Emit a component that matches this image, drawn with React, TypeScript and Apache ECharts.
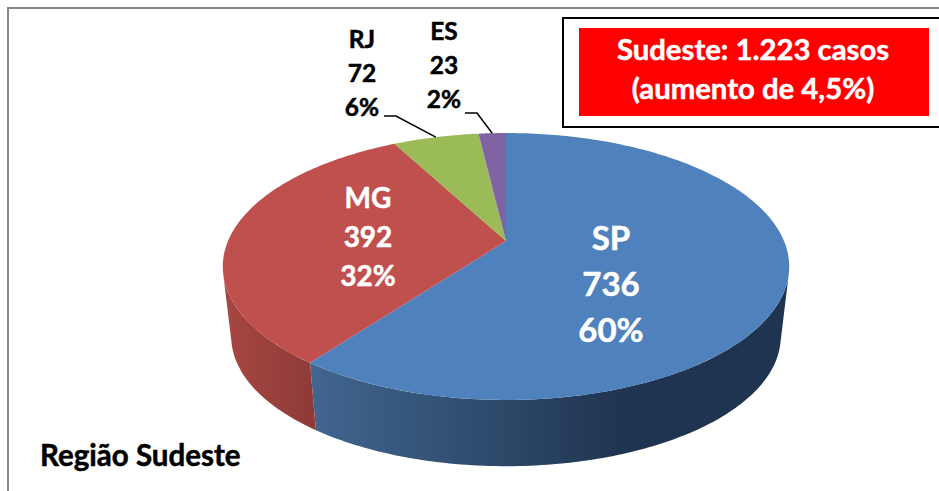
import React, { useEffect, useRef } from "react";
import * as echarts from "echarts";

const categories = ["SP", "MG", "RJ", "ES"];
const values = [736, 392, 72, 23];
const percentLabels = ["60%", "32%", "6%", "2%"];
const titleLines = ["Sudeste: 1.223 casos", "(aumento de 4,5%)"];
const regionLabel = "Região Sudeste";

const FONT = "Lato, Carlito, sans-serif";
const topColors = ["#4f81bd", "#c0504d", "#9bbb59", "#8064a2"];
const wallStops = [
  ["#41668f", "#1f3450"],
  ["#a84744", "#8e3a37"],
  ["#7d9647", "#7d9647"],
  ["#665082", "#665082"],
];
const wallRange = [
  [312, 625],
  [222, 316],
  [0, 939],
  [0, 939],
];
const labelLayout = [
  { x: 611, y: 283, size: 33, line: 46, fill: "#ffffff" },
  { x: 368, y: 235.5, size: 28, line: 39, fill: "#ffffff" },
  { x: 362, y: 72, size: 24.5, line: 34, fill: "#000000" },
  { x: 444, y: 64, size: 24.5, line: 34, fill: "#000000" },
];
const leaderStart: (number[] | null)[] = [
  null,
  null,
  [384, 116, 396, 116],
  [465, 113, 477, 113],
];

// perspective projection of the pie disc
const CX = 506;
const CY = 241;
const R = 278;
const TILT_A = 128.6;
const TILT_C = -0.191;
const DROP = 71;
const SHRINK = 0.97;

const total = values.reduce((a, b) => a + b, 0);
const starts: number[] = [];
values.reduce((acc, v, i) => {
  starts[i] = acc;
  return acc + v;
}, 0);

const rimPoint = (share: number, lower: boolean): number[] => {
  const t = share * Math.PI * 2;
  const u = Math.sin(t);
  const v = -Math.cos(t);
  const d = 1 + TILT_C * v;
  const X = (R * u) / d;
  const Y = (TILT_A * v) / d;
  return lower
    ? [CX + SHRINK * X, CY + DROP + SHRINK * Y]
    : [CX + X, CY + Y];
};

// share at which the wall's silhouette touches the rim on the right side;
// the left side mirrors it
const silhouetteShare = (() => {
  let s = 0.25;
  for (let k = 0; k <= 1000; k++) {
    const t = 0.1 + (0.4 * k) / 1000;
    const p = rimPoint(t, false);
    const p2 = rimPoint(t + 0.0001, false);
    const q = rimPoint(t, true);
    const cross =
      (p2[0] - p[0]) * (q[1] - p[1]) - (p2[1] - p[1]) * (q[0] - p[0]);
    if (cross < 0) {
      s = t;
      break;
    }
  }
  return s;
})();

const arcBetween = (a: number, b: number, lower: boolean): number[][] => {
  const n = Math.max(4, Math.ceil((b - a) * 360));
  const pts: number[][] = [];
  for (let k = 0; k <= n; k++) pts.push(rimPoint(a + ((b - a) * k) / n, lower));
  return pts;
};

const seriesData = categories.map((name, i) => ({ name, value: values[i] }));

const renderWall = (params: any) => {
  const i = params.dataIndex;
  const a = Math.max(starts[i] / total, silhouetteShare);
  const b = Math.min((starts[i] + values[i]) / total, 1 - silhouetteShare);
  if (b <= a) return null;
  const [x0, x1] = wallRange[i];
  return {
    type: "polygon",
    shape: {
      points: [...arcBetween(a, b, false), ...arcBetween(a, b, true).reverse()],
    },
    style: {
      fill: new echarts.graphic.LinearGradient(
        x0, 0, x1, 0,
        [
          { offset: 0, color: wallStops[i][0] },
          { offset: 1, color: wallStops[i][1] },
        ],
        true
      ),
    },
  };
};

const renderTop = (params: any) => {
  const i = params.dataIndex;
  const a = starts[i] / total;
  const b = (starts[i] + values[i]) / total;
  return {
    type: "polygon",
    shape: { points: [[CX, CY], ...arcBetween(a, b, false)] },
    style: { fill: topColors[i] },
  };
};

const renderLabel = (params: any) => {
  const i = params.dataIndex;
  const l = labelLayout[i];
  const children: any[] = [
    {
      type: "text",
      style: {
        text: `${categories[i]}\n${values[i]}\n${percentLabels[i]}`,
        x: l.x,
        y: l.y,
        align: "center",
        verticalAlign: "middle",
        fontFamily: FONT,
        fontWeight: "bold",
        fontSize: l.size,
        lineHeight: l.line,
        fill: l.fill,
        stroke: l.fill,
        lineWidth: 0.5,
      },
    },
  ];
  const s = leaderStart[i];
  if (s) {
    const end = rimPoint((starts[i] + values[i] / 2) / total, false);
    children.push({
      type: "polyline",
      shape: { points: [[s[0], s[1]], [s[2], s[3]], end] },
      style: { stroke: "#000000", lineWidth: 1.5, fill: "none" },
    });
  }
  return { type: "group", children };
};

export default function App() {
  const ref = useRef<HTMLDivElement>(null);
  useEffect(() => {
    if (!ref.current) return;
    const chart = echarts.init(ref.current, undefined, { renderer: "svg" });
    chart.setOption({
      animation: false,
      backgroundColor: "#ffffff",
      series: [
        { type: "custom", coordinateSystem: "none", silent: true, data: seriesData, renderItem: renderWall, z: 1 },
        { type: "custom", coordinateSystem: "none", silent: true, data: seriesData, renderItem: renderTop, z: 2 },
        { type: "custom", coordinateSystem: "none", silent: true, data: seriesData, renderItem: renderLabel, z: 3 },
      ],
      graphic: [
        { type: "line", shape: { x1: 8, y1: 8, x2: 939, y2: 8 }, style: { stroke: "#868686", lineWidth: 2 }, z: 0 },
        { type: "line", shape: { x1: 8, y1: 7, x2: 8, y2: 491 }, style: { stroke: "#868686", lineWidth: 2 }, z: 0 },
        { type: "rect", shape: { x: 563, y: 18, width: 390, height: 109 }, style: { fill: "#ffffff", stroke: "#000000", lineWidth: 2 }, z: 5 },
        { type: "rect", shape: { x: 579, y: 28, width: 350, height: 88 }, style: { fill: "#ff0000" }, z: 6 },
        {
          type: "text",
          z: 7,
          style: {
            text: titleLines.join("\n"),
            x: 753,
            y: 68,
            align: "center",
            verticalAlign: "middle",
            fontFamily: FONT,
            fontWeight: "bold",
            fontSize: 29.3,
            lineHeight: 38.5,
            fill: "#ffffff",
            stroke: "#ffffff",
            lineWidth: 0.5,
          },
        },
        {
          type: "text",
          z: 7,
          style: {
            text: regionLabel,
            x: 40,
            y: 454,
            align: "left",
            verticalAlign: "middle",
            fontFamily: FONT,
            fontWeight: "bold",
            fontSize: 29.5,
            fill: "#000000",
            stroke: "#000000",
            lineWidth: 0.5,
          },
        },
      ],
    });
    return () => chart.dispose();
  }, []);
  return (
    <div
      ref={ref}
      style={{ position: "absolute", left: 0, top: 0, width: 939, height: 491 }}
    />
  );
}
